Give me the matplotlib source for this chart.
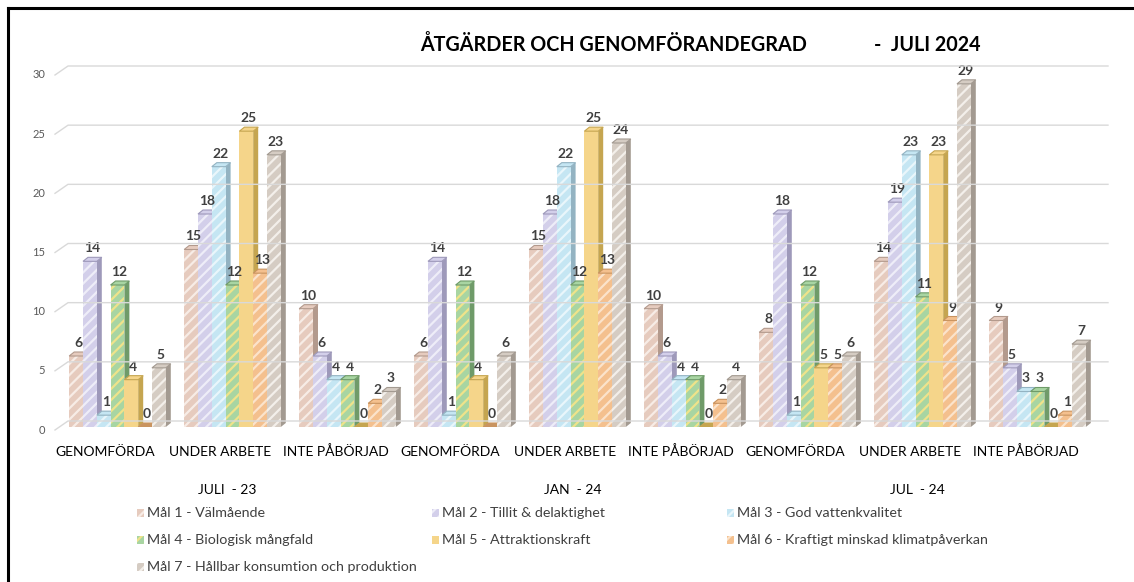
import matplotlib
matplotlib.use("Agg")
import matplotlib.pyplot as plt
from matplotlib.patches import Polygon, Rectangle
from matplotlib.transforms import ScaledTranslation, blended_transform_factory
from matplotlib.lines import Line2D

plt.rcParams['font.family'] = ['Lato', 'DejaVu Sans']
plt.rcParams['hatch.linewidth'] = 1.6

# ---------------- data ----------------
periods = ["JULI  - 23", "JAN  - 24", "JUL  - 24"]
statuses = ["GENOMFÖRDA", "UNDER ARBETE", "INTE PÅBÖRJAD"]
series_names = [
    "Mål 1 - Välmående",
    "Mål 2 - Tillit & delaktighet",
    "Mål 3 - God vattenkvalitet",
    "Mål 4 - Biologisk mångfald",
    "Mål 5 - Attraktionskraft",
    "Mål 6 - Kraftigt minskad klimatpåverkan",
    "Mål 7 - Hållbar konsumtion och produktion",
]
# values per series, over the 9 categories (period x status)
mal1 = [6, 15, 10, 6, 15, 10, 8, 14, 9]
mal2 = [14, 18, 6, 14, 18, 6, 18, 19, 5]
mal3 = [1, 22, 4, 1, 22, 4, 1, 23, 3]
mal4 = [12, 12, 4, 12, 12, 4, 12, 11, 3]
mal5 = [4, 25, 0, 4, 25, 0, 5, 23, 0]
mal6 = [0, 13, 2, 0, 13, 2, 5, 9, 1]
mal7 = [5, 23, 3, 6, 24, 4, 6, 29, 7]
series_values = [mal1, mal2, mal3, mal4, mal5, mal6, mal7]
yticks = [0, 5, 10, 15, 20, 25, 30]

# ---------------- styles ----------------
face = ['#E6CBBE', '#D3CFEA', '#C5E6F3', '#A8D5A2', '#F5D58A', '#F4C08E', '#D5CCC3']
hatchc = ['#F7ECE6', '#EEEDF8', '#E9F6FB', '#EFE38A', '#F8DF9E', '#FBE3CB', '#F3EFEA']
side = ['#B39A8D', '#9E99BA', '#93B3C2', '#6F9B69', '#C5A550', '#C99460', '#A39A91']
hatches = ['///', '///', '///', '///', '', '///', '///']

W, H = 1134, 582
fig = plt.figure(figsize=(W / 100, H / 100), dpi=100)

# axes placement in pixels (top-origin)
ax_left, ax_right = 60, 1095
ax_top, ax_bot = 72, 427
ax = fig.add_axes([ax_left / W, 1 - ax_bot / H, (ax_right - ax_left) / W, (ax_bot - ax_top) / H])
ncat = len(mal1)
ax.set_xlim(-0.5, ncat - 0.5)
ax.set_ylim(0, 30)
ax.axis('off')

px_x = (ax_right - ax_left) / ncat   # pixels per x unit
px_y = (ax_bot - ax_top) / 30.0      # pixels per y unit

def off(dx, dy):
    return ScaledTranslation(dx / 100, dy / 100, fig.dpi_scale_trans)

# gridlines on back wall + perspective stub
grid_c = '#D9D9D9'
for v in yticks:
    p0 = ax.transData.transform((-0.5, v))
    p1 = ax.transData.transform((ncat - 0.5, v))
    xs_g = [p0[0] - 5, p0[0] + 8, p1[0] + 13]
    ys_g = [p0[1] - 3, p0[1] + 6, p1[1] + 6]
    fig.add_artist(Line2D([x / W for x in xs_g], [y / H for y in ys_g],
                          color=grid_c, lw=1.0, transform=fig.transFigure, zorder=0.5))
    ax.text(-0.5, v, str(v), transform=ax.transData + off(-15, -3), ha='right', va='center',
            fontsize=8, color='#595959')

# 3D-like bars
nser = len(series_values)
bw = 13.8 / px_x
depth_x = 5 / px_x
depth_y = 4 / px_y
group_w = bw * nser
xs_base = list(range(ncat))
for i, vals in enumerate(series_values):
    z = 2 + i * 0.1
    xs = [g - group_w / 2 + i * bw for g in xs_base]
    ax.bar(xs, vals, width=bw, align='edge', color=face[i], edgecolor=hatchc[i],
           linewidth=0, hatch=hatches[i], zorder=z + 0.05)
    for x0, h in zip(xs, vals):
        x1 = x0 + bw
        sidep = Polygon([(x1, 0), (x1 + depth_x, depth_y), (x1 + depth_x, h + depth_y), (x1, h)],
                        closed=True, facecolor=side[i], edgecolor='none', zorder=z)
        topp = Polygon([(x0, h), (x0 + depth_x, h + depth_y), (x1 + depth_x, h + depth_y), (x1, h)],
                       closed=True, facecolor=side[i] if h == 0 else face[i],
                       edgecolor=side[i], linewidth=0.8, zorder=z + 0.06)
        ax.add_patch(sidep)
        ax.add_patch(topp)
        ax.text(x0 + bw / 2, h + depth_y, str(h), transform=ax.transData + off(2, 3),
                ha='center', va='bottom', fontsize=10, fontweight='bold', color='#404040',
                zorder=10)

# category labels
xax_tr = blended_transform_factory(ax.transData, ax.transAxes)
for g in range(ncat):
    ax.text(g, 0, statuses[g % 3], transform=xax_tr + off(-12, -25), ha='center', va='center',
            fontsize=10, color='#000000')
for p, name in enumerate(periods):
    ax.text(p * 3 + 1, 0, name, transform=xax_tr + off(-5, -63), ha='center', va='center',
            fontsize=10, color='#000000')

# title
fig.text(420 / W, 1 - 45 / H, "ÅTGÄRDER OCH GENOMFÖRANDEGRAD", ha='left', va='center',
         fontsize=14.2, fontweight='bold', color='#000000')
fig.text(874 / W, 1 - 45 / H, "-  JULI 2024", ha='left', va='center',
         fontsize=14.2, fontweight='bold', color='#000000')

# legend (manual, row-major, 3 columns)
for i, name in enumerate(series_names):
    col, row = i % 3, i // 3
    mx = 137 + 295 * col
    my = 513 + 27 * row
    fig.add_artist(Rectangle((mx / W, 1 - (my + 4) / H), 7 / W, 8 / H, transform=fig.transFigure,
                             facecolor=face[i], edgecolor=hatchc[i], linewidth=0, hatch=hatches[i]))
    fig.text((mx + 10) / W, 1 - my / H, name, ha='left', va='center', fontsize=10.3,
             color='#404040')

# outer frame (cropped at right/bottom)
fig.add_artist(Line2D([8 / W, 1.0], [1 - 8 / H, 1 - 8 / H], color='black', lw=2.2,
                      transform=fig.transFigure))
fig.add_artist(Line2D([8 / W, 8 / W], [1 - 8 / H, 0.0], color='black', lw=2.2,
                      transform=fig.transFigure))

fig.savefig("out.png", dpi=100, facecolor='white')
